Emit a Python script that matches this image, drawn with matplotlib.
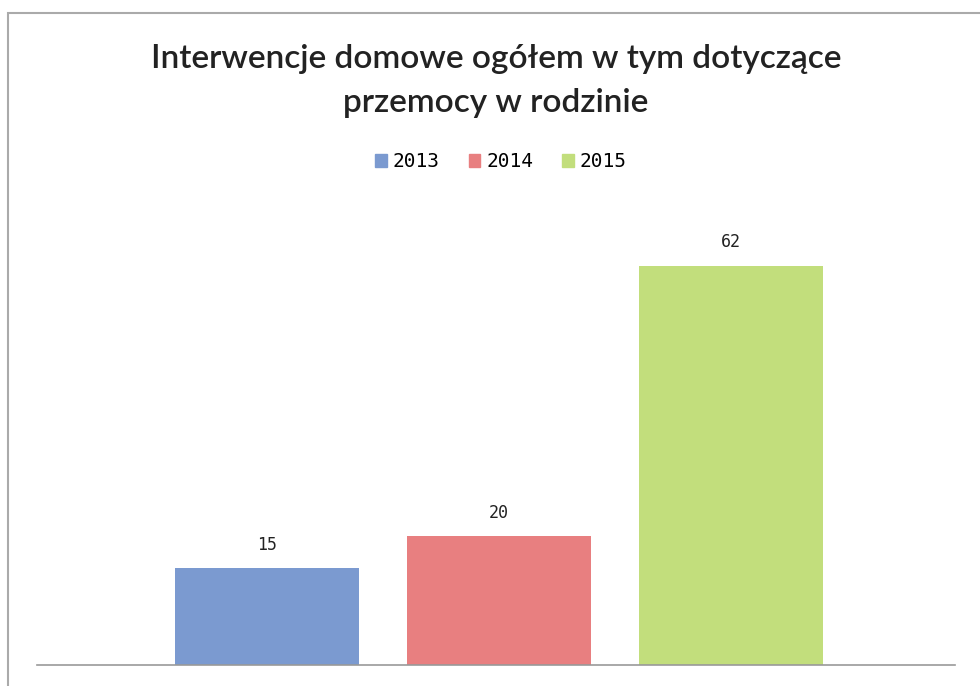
import matplotlib
matplotlib.use('Agg')
import matplotlib.pyplot as plt
from matplotlib.patches import Rectangle

# Chart data
years = ['2013', '2014', '2015']
values = [15, 20, 62]
colors = ['#7B9AD0', '#E87F80', '#C2DE7C']
title = 'Interwencje domowe ogółem w tym dotyczące\nprzemocy w rodzinie'

fig = plt.figure(figsize=(9.8, 6.86), dpi=100)
ax = fig.add_axes([0.0378, 0.0306, 0.9367, 0.6575])

positions = range(len(years))
bars = ax.bar(positions, values, width=0.793, color=colors, label=years)

# value labels over the bars
for rect, val in zip(bars, values):
    ax.text(rect.get_x() + rect.get_width() / 2, val + 2.2, str(val),
            ha='center', va='bottom', fontsize=12, color='#222222',
            family='DejaVu Sans Mono')

ax.set_xlim(-0.991, 2.966)
ax.set_ylim(0, 70)
ax.set_xticks([])
ax.set_yticks([])
for side in ['top', 'left', 'right']:
    ax.spines[side].set_visible(False)
ax.spines['bottom'].set_color('#999999')
ax.spines['bottom'].set_linewidth(1.2)

fig.text(0.506, 0.882, title, ha='center', va='center', fontsize=24,
         family='Lato', weight='semibold', color='#222222', linespacing=1.6)

handles = [Rectangle((0, 0), 1, 1, color=c) for c in colors]
fig.legend(handles, years, loc='center', bbox_to_anchor=(0.511, 0.764),
           ncol=3, frameon=False, handlelength=0.6,
           handleheight=0.6, handletextpad=0.3, columnspacing=1.5,
           prop={'family': 'DejaVu Sans Mono', 'size': 14})

# scanned frame around the chart
fig.add_artist(Rectangle((8 / 980, -0.1), 1.2, 0.1 + 673 / 686,
                         transform=fig.transFigure, fill=False,
                         edgecolor='#aaaaaa', linewidth=1.5))

fig.savefig('out.png', dpi=100)
